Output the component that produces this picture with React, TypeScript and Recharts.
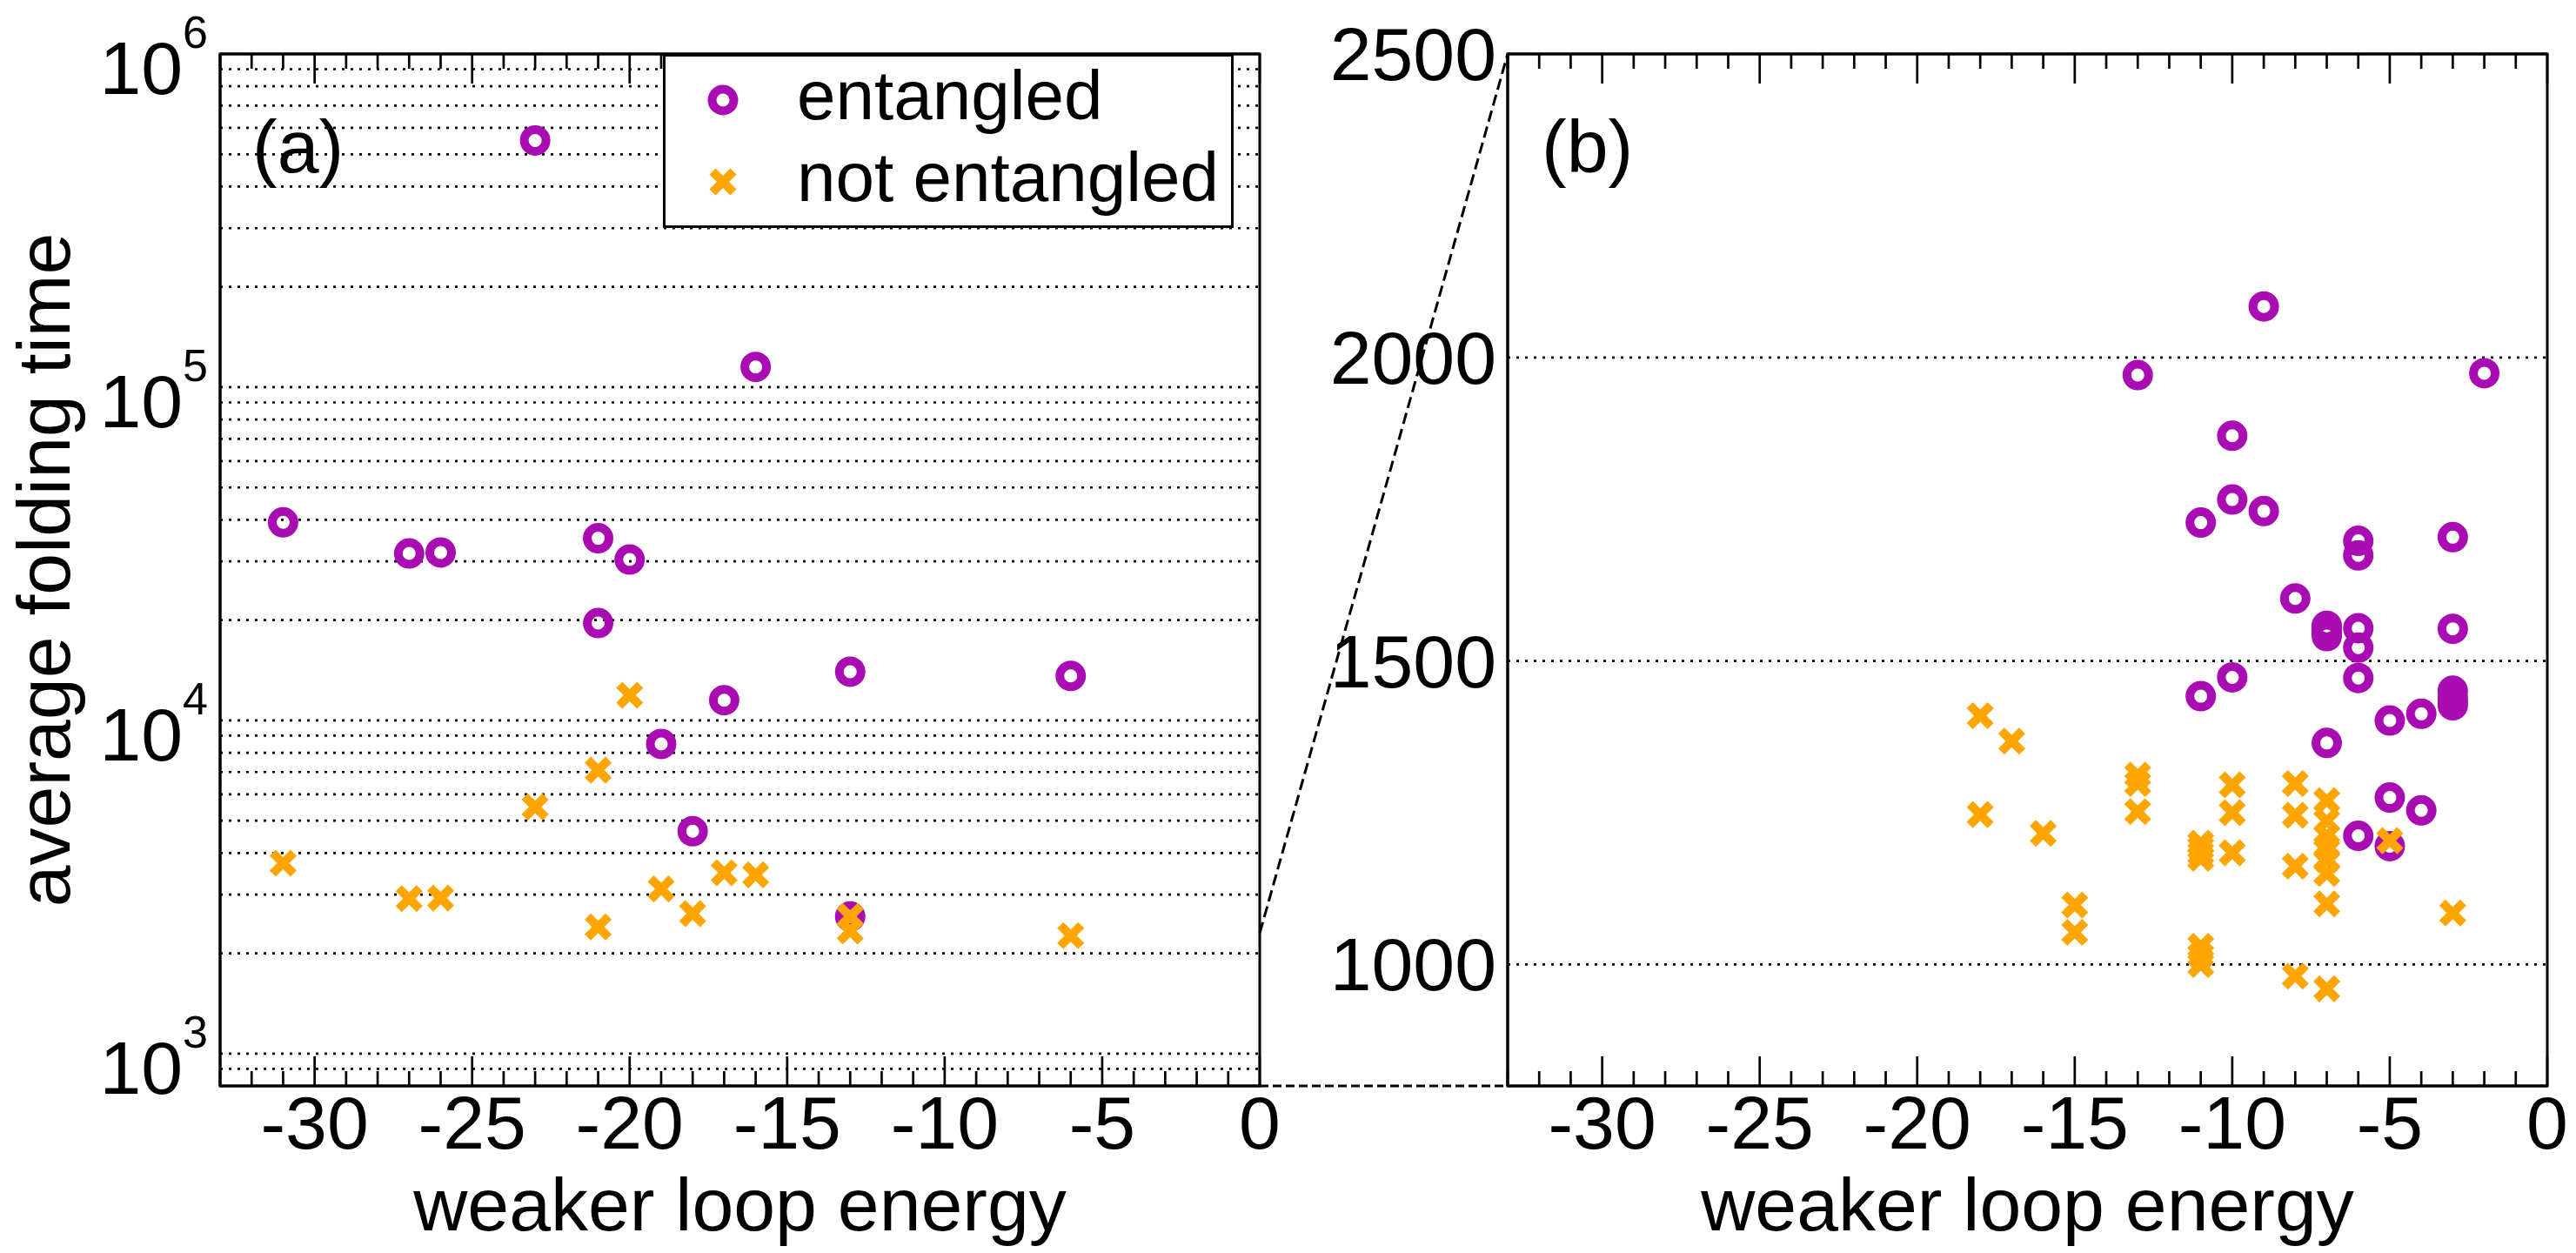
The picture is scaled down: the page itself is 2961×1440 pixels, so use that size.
import React from "react";
import {
  ScatterChart,
  Scatter,
  XAxis,
  YAxis,
  ReferenceLine,
  ReferenceArea,
  Legend,
} from "recharts";

// --- colours / font ---
const PURPLE = "#a90cb3";
const ORANGE = "#ffa500";
const FONT = "'Liberation Sans', Arial, Helvetica, sans-serif";

// --- shared energy axis ---
const X_DOMAIN = [-33, 0];
const X_TICKS = [
  -33, -32, -31, -30, -29, -28, -27, -26, -25, -24, -23, -22, -21, -20, -19, -18, -17,
  -16, -15, -14, -13, -12, -11, -10, -9, -8, -7, -6, -5, -4, -3, -2, -1, 0,
];
const X_LABELS = [-30, -25, -20, -15, -10, -5, 0];

// --- panel (a): log scale ---
const A_Y_DOMAIN = [800, 1000000];
const A_Y_TICKS = [1000, 10000, 100000, 1000000];
const A_Y_GRID = [
  900, 1000, 2000, 3000, 4000, 5000, 6000, 7000, 8000, 9000, 10000, 20000, 30000, 40000,
  50000, 60000, 70000, 80000, 90000, 100000, 200000, 300000, 400000, 500000, 600000,
  700000, 800000, 900000,
];

const A_ENT_X = [-23, -16, -31, -27, -26, -21, -20, -21, -13, -6, -17, -19, -18, -13];
const A_ENT_Y = [
  550000, 115000, 39300, 31700, 31900, 35200, 30400, 19600, 14000, 13600, 11500, 8500,
  4650, 2580,
];
const A_NOT_X = [-31, -27, -26, -23, -21, -20, -21, -19, -18, -17, -16, -13, -13, -6];
const A_NOT_Y = [
  3730, 2920, 2930, 5500, 7090, 11900, 2400, 3120, 2630, 3490, 3440, 2580, 2335, 2260,
];

// --- panel (b): linear zoom ---
const B_Y_DOMAIN = [800, 2500];
const B_Y_TICKS = [1000, 1500, 2000, 2500];
const B_Y_GRID = [1000, 1500, 2000];

const B_ENT_X = [
  -9, -9, -13, -2, -10, -10, -10, -11, -11, -6, -6, -6, -6, -6, -6, -3, -3, -3, -3, -3,
  -3, -8, -7, -7, -7, -7, -7, -5, -5, -5, -4, -4,
];
const B_ENT_Y = [
  2084, 1747, 1971, 1974, 1871, 1766, 1473, 1728, 1442, 1698, 1674, 1554, 1522, 1472,
  1212, 1704, 1553, 1451, 1440, 1432, 1427, 1603, 1558, 1552, 1547, 1541, 1365, 1402,
  1275, 1195, 1413, 1254,
];
const B_NOT_X = [
  -18, -18, -17, -16, -15, -15, -13, -13, -13, -11, -11, -11, -11, -11, -11, -11, -10,
  -10, -10, -8, -8, -8, -8, -7, -7, -7, -7, -7, -7, -7, -7, -5, -3,
];
const B_NOT_Y = [
  1410, 1247, 1368, 1216, 1098, 1053, 1312, 1298, 1252, 1200, 1192, 1183, 1175, 1030,
  1015, 1000, 1296, 1250, 1184, 1298, 1246, 1162, 981, 1270, 1236, 1212, 1193, 1172,
  1150, 1100, 960, 1204, 1085,
];

// zoom connector: where the dashed lines leave panel (a)
const CONNECT_A_TOP = 2300;

const SERIES_NAMES = ["entangled", "not entangled"];

const zip = (xs: number[], ys: number[]) => xs.map((x, i) => ({ x, y: ys[i] }));

// --- layout ---
const TOP = 62;
const BOTTOM = 1248;
const A_LEFT = 253;
const A_RIGHT = 1448;
const B_OFFSET = 1480;
const B_LEFT = 1733;
const B_RIGHT = 2928;
const FS = 86;

const yLogA = (v: number) =>
  TOP +
  ((Math.log10(A_Y_DOMAIN[1]) - Math.log10(v)) /
    (Math.log10(A_Y_DOMAIN[1]) - Math.log10(A_Y_DOMAIN[0]))) *
    (BOTTOM - TOP);
const yLinB = (v: number) =>
  TOP + ((B_Y_DOMAIN[1] - v) / (B_Y_DOMAIN[1] - B_Y_DOMAIN[0])) * (BOTTOM - TOP);

// --- markers ---
const Ring = (p: any) => (
  <circle cx={p.cx} cy={p.cy} r={12.5} fill="none" stroke={PURPLE} strokeWidth={10} />
);
const Cross = (p: any) => (
  <g stroke={ORANGE} strokeWidth={10}>
    <line x1={p.cx - 12} y1={p.cy - 12} x2={p.cx + 12} y2={p.cy + 12} />
    <line x1={p.cx - 12} y1={p.cy + 12} x2={p.cx + 12} y2={p.cy - 12} />
  </g>
);

// --- ticks ---
const BottomTick = (props: any) => {
  const { x, y, payload } = props;
  const major = X_LABELS.includes(payload.value);
  return (
    <g>
      <line x1={x} x2={x} y1={y} y2={y - (major ? 34 : 17)} stroke="#000" strokeWidth={2.7} />
      {major && (
        <text x={x} y={y + 72} textAnchor="middle" fontSize={FS} fill="#000" fontFamily={FONT}>
          {payload.value}
        </text>
      )}
    </g>
  );
};

const TopTick = (props: any) => {
  const { x, y, payload } = props;
  const major = X_LABELS.includes(payload.value);
  return <line x1={x} x2={x} y1={y} y2={y + (major ? 34 : 17)} stroke="#000" strokeWidth={2.7} />;
};

const LogTick = (props: any) => {
  const { x, y, payload } = props;
  const exp = Math.round(Math.log10(payload.value));
  return (
    <text x={x - 14} y={y + 46} textAnchor="end" fontSize={FS} fill="#000" fontFamily={FONT}>
      10
      <tspan dy={-53} fontSize={52}>
        {exp}
      </tspan>
    </text>
  );
};

const LinTick = (props: any) => {
  const { x, y, payload } = props;
  return (
    <text x={x - 13} y={y + 30} textAnchor="end" fontSize={FS} fill="#000" fontFamily={FONT}>
      {payload.value}
    </text>
  );
};

// --- legend box ---
const LegendBox = ({ payload }: any) => {
  const items = (payload || []).map((p: any) => p.value);
  return (
    <svg width={656} height={200} style={{ display: "block" }}>
      <rect x={1.5} y={1.5} width={653} height={197} fill="#fff" stroke="#000" strokeWidth={3} />
      {items.map((name: string, i: number) => {
        const cy = 53 + i * 94;
        return (
          <g key={name}>
            {i === 0 ? <Ring cx={69} cy={cy} /> : <Cross cx={69} cy={cy} />}
            <text x={154} y={cy + 22} fontSize={80} fill="#000" fontFamily={FONT}>
              {name}
            </text>
          </g>
        );
      })}
    </svg>
  );
};

const dotted = { stroke: "#000", strokeWidth: 2.7, strokeDasharray: "3 7" };

export default function App() {
  const aEnt = zip(A_ENT_X, A_ENT_Y);
  const aNot = zip(A_NOT_X, A_NOT_Y);
  const bEnt = zip(B_ENT_X, B_ENT_Y);
  const bNot = zip(B_NOT_X, B_NOT_Y);

  return (
    <div
      style={{
        position: "absolute",
        left: 0,
        top: 0,
        width: 2961,
        height: 1440,
        background: "#fff",
        fontFamily: FONT,
      }}
    >
      {/* panel (a) */}
      <div style={{ position: "absolute", left: 0, top: 0 }}>
        <ScatterChart
          width={1500}
          height={1440}
          margin={{ top: 0, right: 1500 - A_RIGHT, bottom: 0, left: 0 }}
        >
          <XAxis
            xAxisId="bottom"
            type="number"
            dataKey="x"
            domain={X_DOMAIN}
            ticks={X_TICKS}
            interval={0}
            allowDataOverflow
            orientation="bottom"
            height={1440 - BOTTOM}
            tickSize={0}
            tickMargin={0}
            tickLine={false}
            axisLine={{ stroke: "#000", strokeWidth: 3 }}
            tick={<BottomTick />}
          />
          <XAxis
            xAxisId="top"
            type="number"
            dataKey="x"
            domain={X_DOMAIN}
            ticks={X_TICKS}
            interval={0}
            allowDataOverflow
            orientation="top"
            height={TOP}
            tickSize={0}
            tickMargin={0}
            tickLine={false}
            axisLine={{ stroke: "#000", strokeWidth: 3 }}
            tick={<TopTick />}
          />
          <YAxis
            type="number"
            dataKey="y"
            scale="log"
            domain={A_Y_DOMAIN}
            ticks={A_Y_TICKS}
            interval={0}
            allowDataOverflow
            width={A_LEFT}
            tickSize={0}
            tickMargin={0}
            tickLine={false}
            axisLine={{ stroke: "#000", strokeWidth: 3 }}
            tick={<LogTick />}
          />
          {A_Y_GRID.map((v) => (
            <ReferenceLine key={v} y={v} xAxisId="bottom" {...dotted} />
          ))}
          <ReferenceArea
            xAxisId="bottom"
            x1={X_DOMAIN[0]}
            x2={X_DOMAIN[1]}
            y1={A_Y_DOMAIN[0]}
            y2={A_Y_DOMAIN[1]}
            fill="none"
            stroke="#000"
            strokeWidth={3}
          />
          <Scatter
            name={SERIES_NAMES[0]}
            data={aEnt}
            xAxisId="bottom"
            fill={PURPLE}
            shape={Ring}
            isAnimationActive={false}
          />
          <Scatter
            name={SERIES_NAMES[1]}
            data={aNot}
            xAxisId="bottom"
            fill={ORANGE}
            shape={Cross}
            isAnimationActive={false}
          />
          <Legend
            layout="vertical"
            align="center"
            verticalAlign="middle"
            wrapperStyle={{ position: "absolute", left: 762, top: TOP, width: 656, height: 200 }}
            content={(p: any) => <LegendBox payload={p.payload} />}
          />
        </ScatterChart>
      </div>

      {/* panel (b) */}
      <div style={{ position: "absolute", left: B_OFFSET, top: 0 }}>
        <ScatterChart
          width={2961 - B_OFFSET}
          height={1440}
          margin={{ top: 0, right: 2961 - B_RIGHT, bottom: 0, left: 0 }}
        >
          <XAxis
            xAxisId="bottom"
            type="number"
            dataKey="x"
            domain={X_DOMAIN}
            ticks={X_TICKS}
            interval={0}
            allowDataOverflow
            orientation="bottom"
            height={1440 - BOTTOM}
            tickSize={0}
            tickMargin={0}
            tickLine={false}
            axisLine={{ stroke: "#000", strokeWidth: 3 }}
            tick={<BottomTick />}
          />
          <XAxis
            xAxisId="top"
            type="number"
            dataKey="x"
            domain={X_DOMAIN}
            ticks={X_TICKS}
            interval={0}
            allowDataOverflow
            orientation="top"
            height={TOP}
            tickSize={0}
            tickMargin={0}
            tickLine={false}
            axisLine={{ stroke: "#000", strokeWidth: 3 }}
            tick={<TopTick />}
          />
          <YAxis
            type="number"
            dataKey="y"
            domain={B_Y_DOMAIN}
            ticks={B_Y_TICKS}
            interval={0}
            allowDataOverflow
            width={B_LEFT - B_OFFSET}
            tickSize={0}
            tickMargin={0}
            tickLine={false}
            axisLine={{ stroke: "#000", strokeWidth: 3 }}
            tick={<LinTick />}
          />
          {B_Y_GRID.map((v) => (
            <ReferenceLine key={v} y={v} xAxisId="bottom" {...dotted} />
          ))}
          <ReferenceArea
            xAxisId="bottom"
            x1={X_DOMAIN[0]}
            x2={X_DOMAIN[1]}
            y1={B_Y_DOMAIN[0]}
            y2={B_Y_DOMAIN[1]}
            fill="none"
            stroke="#000"
            strokeWidth={3}
          />
          <Scatter
            name={SERIES_NAMES[0]}
            data={bEnt}
            xAxisId="bottom"
            fill={PURPLE}
            shape={Ring}
            isAnimationActive={false}
          />
          <Scatter
            name={SERIES_NAMES[1]}
            data={bNot}
            xAxisId="bottom"
            fill={ORANGE}
            shape={Cross}
            isAnimationActive={false}
          />
        </ScatterChart>
      </div>

      {/* labels and zoom connector */}
      <svg
        width={2961}
        height={1440}
        style={{ position: "absolute", left: 0, top: 0, pointerEvents: "none" }}
        fontFamily={FONT}
        fill="#000"
      >
        <line
          x1={A_RIGHT}
          y1={yLogA(CONNECT_A_TOP)}
          x2={B_LEFT}
          y2={yLinB(B_Y_DOMAIN[1])}
          stroke="#000"
          strokeWidth={3}
          strokeDasharray="13 6"
        />
        <line
          x1={A_RIGHT}
          y1={yLogA(A_Y_DOMAIN[0])}
          x2={B_LEFT}
          y2={yLinB(B_Y_DOMAIN[0])}
          stroke="#000"
          strokeWidth={3}
          strokeDasharray="10 5"
        />
        <text x={290} y={198} fontSize={FS}>
          (a)
        </text>
        <text x={1772} y={198} fontSize={FS}>
          (b)
        </text>
        <text x={(A_LEFT + A_RIGHT) / 2} y={1414} fontSize={FS} textAnchor="middle">
          weaker loop energy
        </text>
        <text x={(B_LEFT + B_RIGHT) / 2} y={1414} fontSize={FS} textAnchor="middle">
          weaker loop energy
        </text>
        <text transform={`translate(80, ${(TOP + BOTTOM) / 2}) rotate(-90)`} fontSize={FS} textAnchor="middle">
          average folding time
        </text>
      </svg>
    </div>
  );
}
